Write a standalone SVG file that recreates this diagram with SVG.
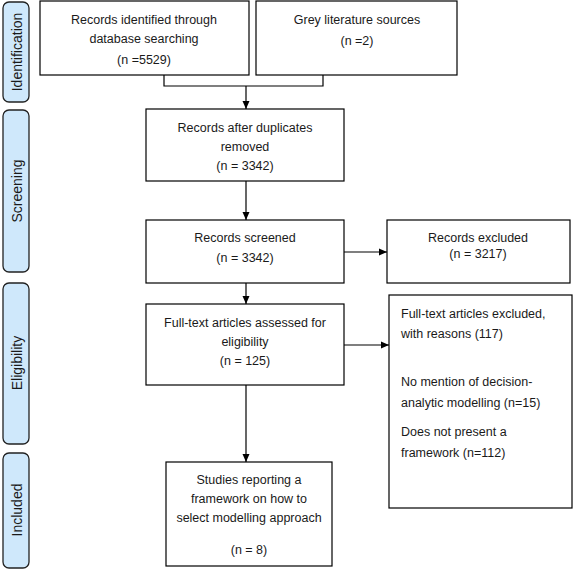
<svg xmlns="http://www.w3.org/2000/svg" width="574" height="574" viewBox="0 0 574 574">
<style>
.box{fill:#fff;stroke:#000;stroke-width:1.2}
.side{fill:#cfe8fb;stroke:#222;stroke-width:1.3}
.t{font-family:"Liberation Sans",Arial,sans-serif;font-size:12.5px;fill:#1a1a1a}
.c{text-anchor:middle}
.st{font-family:"Liberation Sans",Arial,sans-serif;font-size:14px;fill:#1a1a1a;text-anchor:middle}
.ln{fill:none;stroke:#000;stroke-width:1.2}
</style>
<defs>
<marker id="ah" markerWidth="8" markerHeight="8" refX="8" refY="4" orient="auto" markerUnits="userSpaceOnUse">
<path d="M0,0.5 L8,4 L0,7.5 Z" fill="#000"/>
</marker>
</defs>
<rect width="574" height="574" fill="#fff"/>
<g id="side-identification"><rect class="side" x="3" y="2" width="26" height="100" rx="6"/><text class="st" transform="translate(22,52) rotate(-90)">Identification</text></g>
<g id="side-screening"><rect class="side" x="3" y="110" width="26" height="162" rx="6"/><text class="st" transform="translate(22,191) rotate(-90)">Screening</text></g>
<g id="side-eligibility"><rect class="side" x="3" y="283" width="26" height="161" rx="6"/><text class="st" transform="translate(22,363) rotate(-90)">Eligibility</text></g>
<g id="side-included"><rect class="side" x="3" y="453" width="26" height="115" rx="6"/><text class="st" transform="translate(22,510) rotate(-90)">Included</text></g>
<g id="connectors">
<polyline class="ln" points="164,75 164,86 323,86 323,75"/>
<line class="ln" x1="246" y1="86" x2="246" y2="109" marker-end="url(#ah)"/>
<line class="ln" x1="246" y1="181" x2="246" y2="220" marker-end="url(#ah)"/>
<line class="ln" x1="246" y1="283" x2="246" y2="304" marker-end="url(#ah)"/>
<line class="ln" x1="344" y1="252" x2="387" y2="252" marker-end="url(#ah)"/>
<line class="ln" x1="344" y1="345" x2="389" y2="345" marker-end="url(#ah)"/>
<line class="ln" x1="246" y1="385" x2="246" y2="462" marker-end="url(#ah)"/>
</g>
<g id="n1"><rect class="box" x="40" y="1" width="209" height="74"/>
<text class="t c" x="144" y="24">Records identified through</text>
<text class="t c" x="144" y="43">database searching</text>
<text class="t c" x="144" y="64">(n =5529)</text></g>
<g id="n2"><rect class="box" x="256" y="1" width="201" height="74"/>
<text class="t c" x="357" y="24">Grey literature sources</text>
<text class="t c" x="357" y="45">(n =2)</text></g>
<g id="n3"><rect class="box" x="146" y="109" width="198" height="72"/>
<text class="t c" x="245" y="132">Records after duplicates</text>
<text class="t c" x="245" y="151">removed</text>
<text class="t c" x="245" y="170">(n = 3342)</text></g>
<g id="n4"><rect class="box" x="146" y="220" width="198" height="63"/>
<text class="t c" x="245" y="242">Records screened</text>
<text class="t c" x="245" y="262">(n = 3342)</text></g>
<g id="n5"><rect class="box" x="387" y="220" width="183" height="63"/>
<text class="t c" x="478" y="242">Records excluded</text>
<text class="t c" x="478" y="258">(n = 3217)</text></g>
<g id="n6"><rect class="box" x="146" y="304" width="198" height="81"/>
<text class="t c" x="245" y="327">Full-text articles assessed for</text>
<text class="t c" x="245" y="346">eligibility</text>
<text class="t c" x="245" y="365">(n = 125)</text></g>
<g id="n7"><rect class="box" x="389" y="295" width="183" height="213"/>
<text class="t" x="401" y="318">Full-text articles excluded,</text>
<text class="t" x="401" y="338">with reasons (117)</text>
<text class="t" x="401" y="386">No mention of decision-</text>
<text class="t" x="401" y="407">analytic modelling (n=15)</text>
<text class="t" x="401" y="436">Does not present a</text>
<text class="t" x="401" y="457">framework (n=112)</text></g>
<g id="n8"><rect class="box" x="166" y="462" width="166" height="104"/>
<text class="t c" x="249" y="484">Studies reporting a</text>
<text class="t c" x="249" y="503">framework on how to</text>
<text class="t c" x="249" y="522">select modelling approach</text>
<text class="t c" x="249" y="554">(n = 8)</text></g>
</svg>
